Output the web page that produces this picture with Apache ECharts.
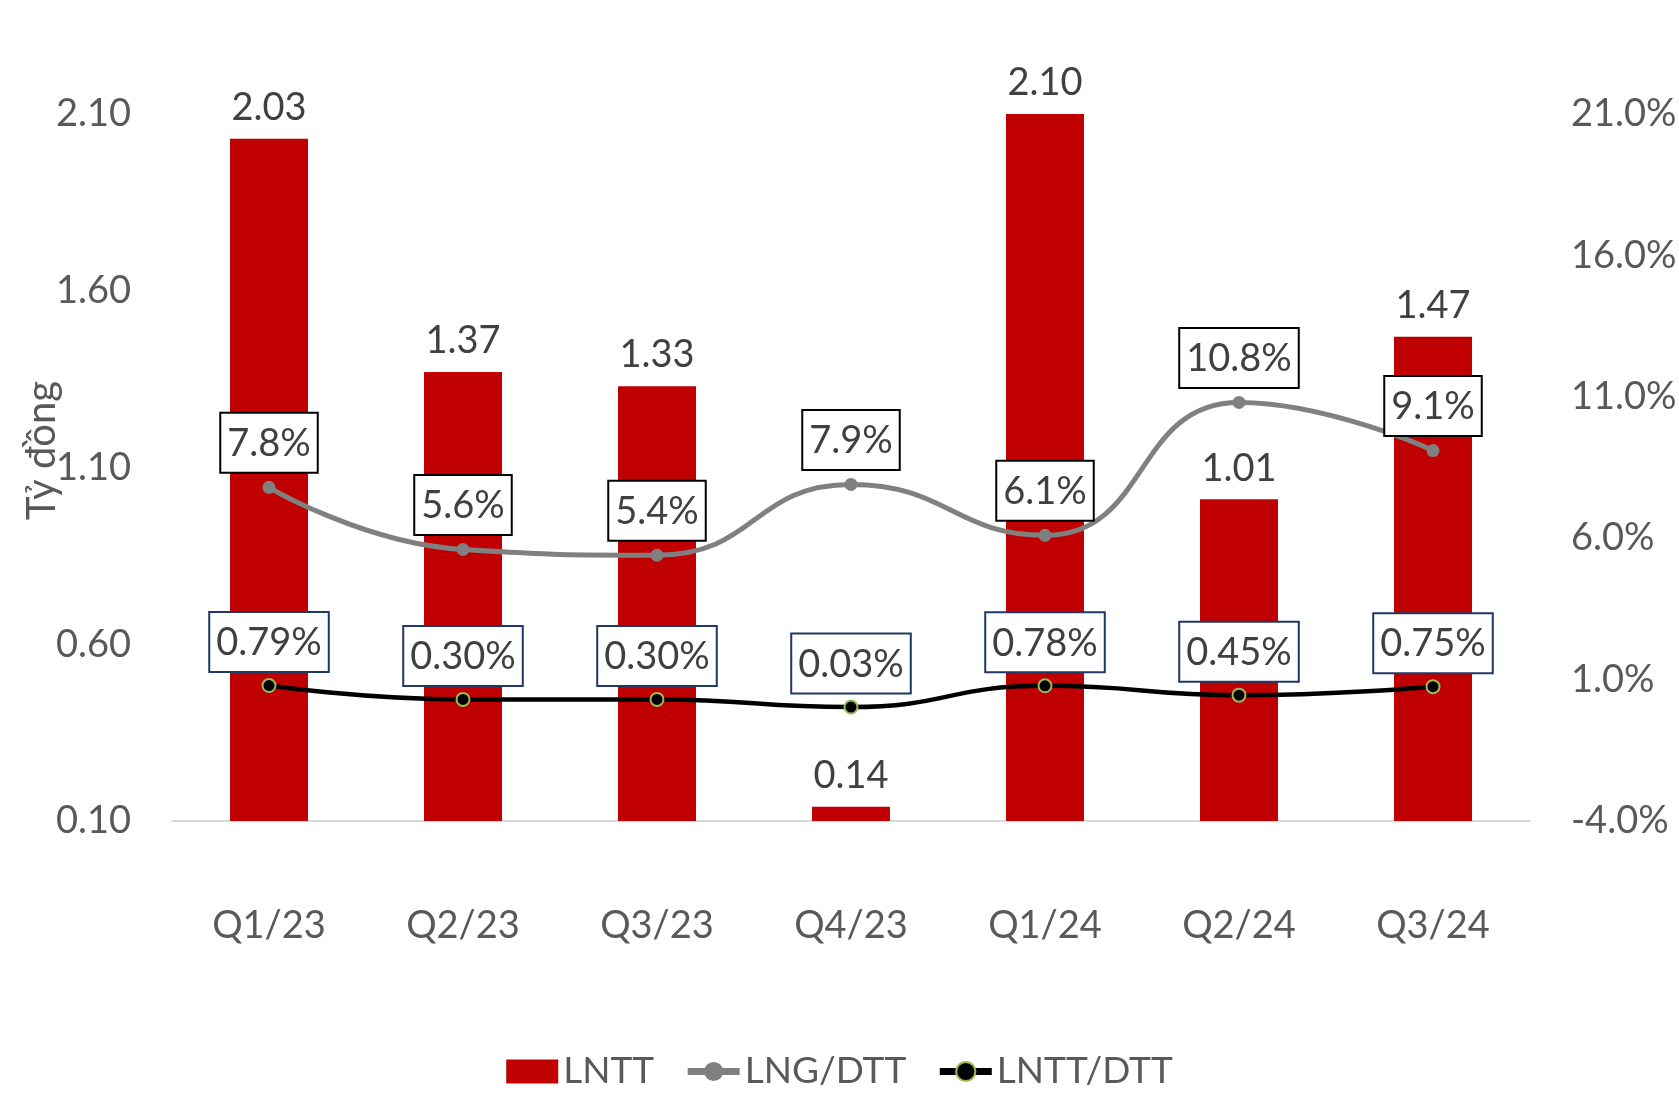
<!DOCTYPE html>
<html>
<head>
<meta charset="utf-8">
<title>LNTT</title>
<script src="https://cdn.jsdelivr.net/npm/echarts@6/dist/echarts.min.js"></script>
<style>
  html, body { margin: 0; padding: 0; background: #fff; }
  #chart { width: 1679px; height: 1093px; }
</style>
</head>
<body>
<div id="chart"></div>
<script>
const categories = ['Q1/23', 'Q2/23', 'Q3/23', 'Q4/23', 'Q1/24', 'Q2/24', 'Q3/24']
// LNTT, ty dong
const lntt = [2.03, 1.37, 1.33, 0.14, 2.10, 1.01, 1.47]
// margins, %
const lngDtt = [7.8, 5.6, 5.4, 7.9, 6.1, 10.8, 9.1]
const lnttDtt = [0.79, 0.30, 0.30, 0.03, 0.78, 0.45, 0.75]

const FONT = 'Lato'
const FS = 38

const chart = echarts.init( document.getElementById( 'chart' ) )

const boxLabel = ( border, digits ) => ( {
  show : true,
  position : 'top',
  color : '#404040',
  fontSize : FS,
  lineHeight : 40,
  backgroundColor : '#fff',
  borderColor : border,
  borderWidth : 2,
  padding : [10, 6, 8, 6],
  formatter : p => p.value.toFixed( digits ) + '%'
} )

chart.setOption( {
  backgroundColor : '#fff',
  animation : false,
  textStyle : { fontFamily : FONT },
  grid : {
    left : 172,
    right : 149,
    top : 114,
    bottom : 272,
    outerBoundsMode : 'none'
  },
  legend : {
    bottom : -2,
    left : 'center',
    itemWidth : 52,
    itemHeight : 24,
    itemGap : 30,
    textStyle : { color : '#595959', fontSize : 37, fontFamily : FONT },
    data : [
      { name : 'LNTT', icon : 'rect' },
      { name : 'LNG/DTT', lineStyle : { width : 7 } },
      { name : 'LNTT/DTT', lineStyle : { width : 7 } }
    ]
  },
  xAxis : {
    type : 'category',
    data : categories,
    axisLine : { onZero : false, lineStyle : { color : '#d9d9d9', width : 2 } },
    axisTick : { show : false },
    axisLabel : { color : '#595959', fontSize : FS, margin : 86 }
  },
  yAxis : [
    {
      type : 'value',
      min : 0.1,
      max : 2.1,
      interval : 0.5,
      name : 'Tỷ đồng',
      nameLocation : 'middle',
      nameGap : 110,
      nameMoveOverlap : false,
      nameTextStyle : { color : '#595959', fontSize : 40, padding : [0, 0, 0, 34] },
      axisLine : { show : false },
      axisTick : { show : false },
      splitLine : { show : false },
      axisLabel : {
        color : '#595959',
        fontSize : FS,
        margin : 41,
        formatter : v => v.toFixed( 2 )
      }
    },
    {
      type : 'value',
      min : -4,
      max : 21,
      interval : 5,
      axisLine : { show : false },
      axisTick : { show : false },
      splitLine : { show : false },
      axisLabel : {
        color : '#595959',
        fontSize : FS,
        margin : 41,
        formatter : v => v.toFixed( 1 ) + '%'
      }
    }
  ],
  series : [
    {
      name : 'LNTT',
      type : 'bar',
      data : lntt,
      barWidth : 78,
      itemStyle : { color : '#c00000' },
      label : {
        show : true,
        position : 'top',
        distance : 12,
        color : '#404040',
        fontSize : FS,
        formatter : p => p.value.toFixed( 2 )
      },
      z : 1
    },
    {
      name : 'LNG/DTT',
      type : 'line',
      yAxisIndex : 1,
      data : lngDtt,
      smooth : 0.5,
      symbol : 'circle',
      symbolSize : 13,
      lineStyle : { color : '#808080', width : 5 },
      itemStyle : { color : '#808080' },
      label : Object.assign( boxLabel( '#000', 1 ), { distance : 9 } ),
      z : 3
    },
    {
      name : 'LNTT/DTT',
      type : 'line',
      yAxisIndex : 1,
      data : lnttDtt,
      smooth : 0.5,
      symbol : 'circle',
      symbolSize : 13,
      lineStyle : { color : '#000', width : 4.5 },
      itemStyle : { color : '#000', borderColor : '#9bbb59', borderWidth : 2 },
      label : Object.assign( boxLabel( '#1f3864', 2 ), { distance : 7 } ),
      z : 4
    }
  ]
} )

window.addEventListener( 'resize', () => {
  chart && chart.resize()
} )
</script>
</body>
</html>
